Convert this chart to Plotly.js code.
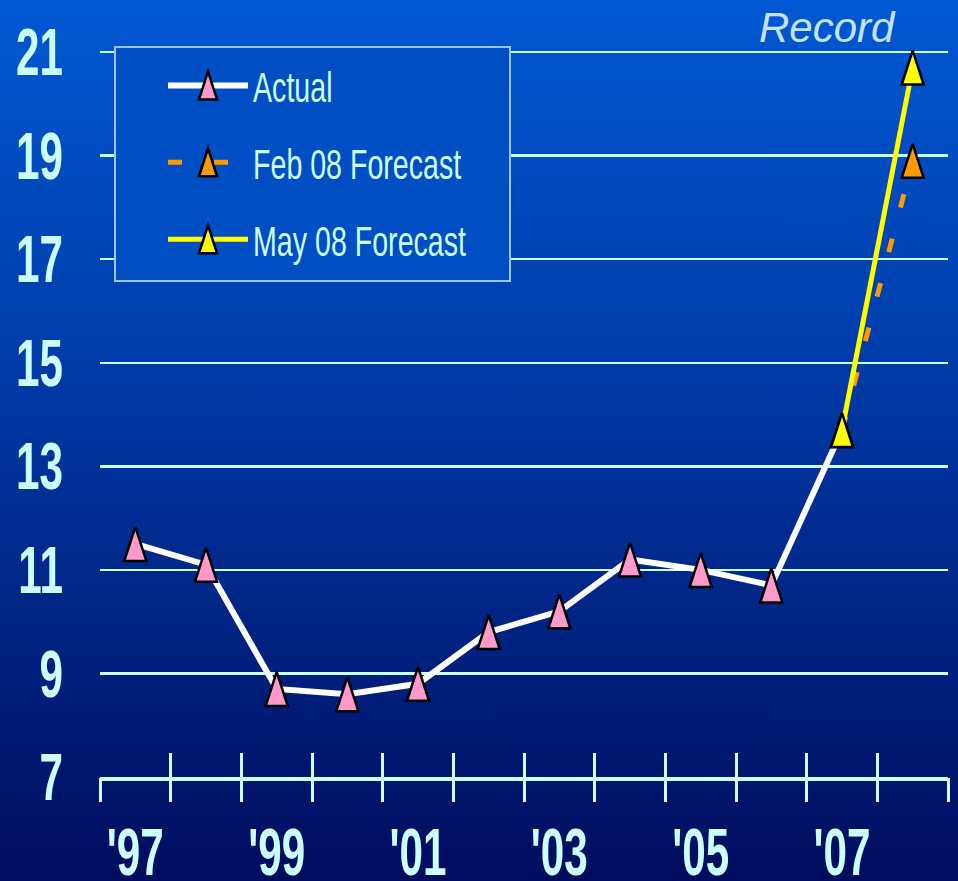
<!DOCTYPE html>
<html>
<head>
<meta charset="utf-8">
<script src="https://cdn.plot.ly/plotly-3.0.1.min.js"></script>
<style>
  html, body { margin: 0; padding: 0; }
  body {
    width: 958px; height: 881px; overflow: hidden;
    background: linear-gradient(to bottom, #0058d2 0%, #0040b0 35%, #002484 70%, #000c5e 100%);
  }
  #chart { width: 958px; height: 881px; }
</style>
</head>
<body>
<div id="chart"></div>
<script>
// Hog prices by year, actual and 2008 forecasts
const years = [1997, 1998, 1999, 2000, 2001, 2002, 2003, 2004, 2005, 2006, 2007];
const actual = [11.5, 11.1, 8.7, 8.6, 8.8, 9.8, 10.2, 11.2, 11.0, 10.7, 13.7];
const forecastYears = [2007, 2008];
const febForecast = [13.7, 18.9];
const mayForecast = [13.7, 20.7];
const labelYears = [1997, 1999, 2001, 2003, 2005, 2007];
const yearLabels = ["'97", "'99", "'01", "'03", "'05", "'07"];
const yTicks = [7, 9, 11, 13, 15, 17, 19, 21];

const CYAN = '#ccffff';
const SANS = "'Liberation Sans', Arial, sans-serif";
const allYears = years.concat([forecastYears[forecastYears.length - 1]]);
const bounds = allYears.map(y => y - 0.5).concat([allYears[allYears.length - 1] + 0.5]);
const xRange = [bounds[0], bounds[bounds.length - 1]];
// a hair of headroom so the top gridline is kept
const yRange = [yTicks[0], yTicks[yTicks.length - 1] + 0.04];

const markerLine = { color: '#000000', width: 2.5 };

const traces = [
  {
    name: 'Actual', x: years, y: actual, type: 'scatter', mode: 'lines+markers',
    line: { color: '#ffffff', width: 6 },
    marker: { symbol: 'triangle-up', size: 22, color: '#ff99cc', line: markerLine },
    legendgroup: 'a', cliponaxis: false
  },
  {
    name: 'Feb 08 Forecast', x: forecastYears, y: febForecast, type: 'scatter', mode: 'lines+markers',
    xaxis: 'x2',
    line: { color: '#ff9900', width: 5, dash: '14px,32px' },
    marker: { symbol: 'triangle-up', size: 22, color: '#ff9900', line: markerLine },
    legendgroup: 'b', cliponaxis: false
  },
  {
    name: 'May 08 Forecast', x: forecastYears, y: mayForecast, type: 'scatter', mode: 'lines+markers',
    xaxis: 'x3',
    line: { color: '#ffff00', width: 5 },
    marker: { symbol: 'triangle-up', size: 22, color: '#ffff00', line: markerLine },
    legendgroup: 'c', cliponaxis: false
  }
];

// Year-boundary tick marks: one axis draws them below the line, the other above
const tickAxis = (side) => ({
  overlaying: 'x', anchor: 'y', side: 'bottom', range: xRange,
  tickmode: 'array', tickvals: bounds, ticks: side, ticklen: 24, tickwidth: 3, tickcolor: CYAN,
  showticklabels: false, showgrid: false, zeroline: false, showline: false, fixedrange: true
});

const layout = {
  width: 958, height: 881,
  margin: { l: 100, r: 10, t: 50, b: 104 },
  paper_bgcolor: 'rgba(0,0,0,0)',
  plot_bgcolor: 'rgba(0,0,0,0)',
  showlegend: true,
  xaxis: {
    range: xRange, tickmode: 'array', tickvals: labelYears, ticktext: yearLabels,
    ticks: '', showgrid: false, zeroline: false,
    showline: true, linecolor: CYAN, linewidth: 4,
    tickfont: { family: SANS, size: 66, color: CYAN, weight: 'bold' },
    ticklabelstandoff: 15, fixedrange: true
  },
  xaxis2: tickAxis('outside'),
  xaxis3: tickAxis('inside'),
  yaxis: {
    range: yRange, tickmode: 'array', tickvals: yTicks,
    showgrid: true, gridcolor: CYAN, gridwidth: 2.5, zeroline: false, showline: false, ticks: '',
    tickfont: { family: SANS, size: 66, color: CYAN, weight: 'bold' },
    ticklabelstandoff: 36, fixedrange: true
  },
  legend: {
    x: 0.0743, xanchor: 'left', y: 0.9986, yanchor: 'top',
    bgcolor: 'rgba(0,0,0,0)', borderwidth: 0,
    font: { family: SANS, size: 43, color: CYAN },
    itemwidth: 80, tracegroupgap: 18, traceorder: 'grouped'
  },
  shapes: [{
    // legend frame
    type: 'rect', xref: 'paper', yref: 'paper',
    x0: 0.0177, x1: 0.4835, y0: 0.6823, y1: 1.0041,
    fillcolor: '#004ec4', line: { color: '#9cc4f0', width: 2 }, layer: 'above'
  }],
  annotations: [{
    text: 'Record', xref: 'x', yref: 'paper', x: 2006.8, y: 1.0316,
    xanchor: 'center', yanchor: 'middle', showarrow: false,
    font: { family: SANS, size: 42, color: '#c4e2ff', style: 'italic' }
  }]
};

// Tall narrow triangles for the data markers and legend swatches
const TRI = 'M-11,17H11L0,-17Z';
const TRI_LEGEND = 'M-9,14H9L0,-14Z';
// Narrow lettering for tick labels and legend entries
function condense(sel, factor) {
  document.querySelectorAll(sel).forEach(t => {
    if (t.hasAttribute('textLength')) return;
    const w = t.getComputedTextLength();
    if (!w) return;
    t.setAttribute('lengthAdjust', 'spacingAndGlyphs');
    t.setAttribute('textLength', (w * factor).toFixed(1));
  });
}
function restyleMarks(gd) {
  gd.querySelectorAll('.scatterlayer path.point').forEach(p => p.setAttribute('d', TRI));
  gd.querySelectorAll('.legend path.scatterpts').forEach(p => p.setAttribute('d', TRI_LEGEND));
  condense('#chart .xtick text, #chart .ytick text', 0.64);
  condense('#chart .legend text.legendtext', 0.665);
}

const gd = document.getElementById('chart');
Plotly.newPlot(gd, traces, layout, { displayModeBar: false, staticPlot: true }).then(() => {
  restyleMarks(gd);
  gd.on('plotly_afterplot', () => restyleMarks(gd));
});
</script>
</body>
</html>
